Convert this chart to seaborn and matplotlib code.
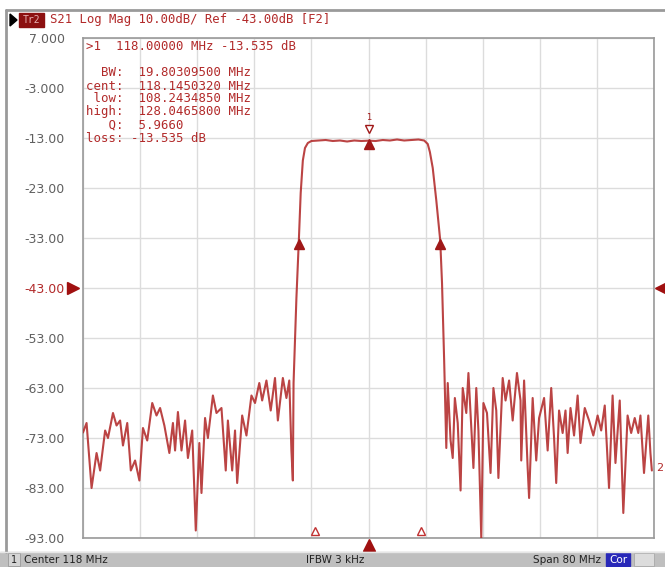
import matplotlib
matplotlib.use("Agg")
import numpy as np
import pandas as pd
import seaborn as sns
import matplotlib.pyplot as plt
from matplotlib.patches import Rectangle
from matplotlib.lines import Line2D

# ---------------- data ----------------
freq_mhz = [
    78.0, 78.5, 79.2, 79.9, 80.4, 81.1, 81.5, 82.2, 82.7, 83.2, 83.6, 84.2, 84.7, 85.3, 85.9,
    86.4, 87.0, 87.7, 88.3, 88.8, 89.4, 90.1, 90.6, 90.9, 91.3, 91.8, 92.3, 92.7, 93.3, 93.8,
    94.3, 94.6, 95.1, 95.5, 96.2, 96.7, 97.4, 98.0, 98.3, 98.9, 99.3, 99.6, 100.3, 100.9, 101.6,
    102.1, 102.7, 103.1, 103.7, 104.3, 104.9, 105.3, 106.0, 106.5, 106.9, 107.2, 107.4,
    107.5, 107.9, 108.24, 108.5, 108.8, 109.1, 109.5, 110.0, 111.0, 112.0, 113.0, 114.0, 115.0,
    116.0, 117.0, 118.0, 119.0, 120.0, 121.0, 122.0, 123.0, 124.0, 125.0, 125.8, 126.3, 126.6,
    127.0, 127.5, 128.05, 128.3, 128.6,
    128.9, 129.1, 129.5, 129.8, 130.1, 130.5, 130.9, 131.2, 131.7, 132.0, 132.4, 132.7, 133.1,
    133.4, 133.8, 134.1, 134.6, 135.1, 135.5, 135.9, 136.2, 136.8, 137.2, 137.7, 138.2, 138.8,
    139.3, 139.4, 139.8, 140.3, 140.5, 141.0, 141.5, 141.9, 142.6, 143.1, 143.6, 144.0, 144.3,
    144.7, 145.2, 145.6, 145.9, 146.3, 146.8, 147.3, 147.7, 148.3, 148.9, 149.5, 150.1, 150.6,
    151.1, 151.7, 152.2, 152.6, 153.2, 153.7, 154.3, 154.8, 155.3, 155.8, 156.1, 156.6, 157.2,
    157.5, 157.7,
]
s21_db = [
    -71.9, -70.0, -83.0, -76.0, -79.5, -71.5, -73.0, -68.0, -70.5, -69.5, -74.5, -70.0, -79.5, -77.5, -81.5,
    -71.0, -73.5, -66.0, -68.5, -67.0, -70.5, -76.0, -70.0, -75.5, -67.8, -75.5, -69.5, -77.0, -71.5, -91.5,
    -74.0, -84.0, -69.0, -73.0, -64.5, -68.0, -67.0, -79.5, -69.5, -79.5, -71.5, -82.0, -68.5, -72.5, -64.5,
    -66.0, -62.0, -65.5, -61.5, -67.5, -61.0, -69.5, -61.0, -65.0, -61.5, -75.5, -81.5,
    -62.0, -45.0, -33.5, -24.0, -17.5, -15.0, -14.0, -13.6, -13.5, -13.4, -13.6, -13.5, -13.7,
    -13.5, -13.6, -13.535, -13.6, -13.4, -13.5, -13.3, -13.5, -13.4, -13.3, -13.5, -14.2, -15.8,
    -19.0, -25.5, -33.5, -42.0, -57.5,
    -75.0, -62.0, -73.5, -77.0, -65.0, -70.0, -83.5, -63.0, -68.0, -60.0, -71.0, -79.0, -63.0,
    -71.5, -93.0, -66.0, -68.0, -80.0, -63.0, -67.5, -81.0, -61.0, -65.5, -61.5, -69.5, -60.0,
    -65.5, -77.5, -61.5, -79.0, -85.0, -65.0, -77.5, -69.0, -65.0, -75.5, -63.0, -73.0, -82.0,
    -67.5, -72.0, -67.5, -76.0, -67.0, -72.5, -64.5, -74.0, -67.0, -69.5, -72.5, -68.5, -71.5,
    -66.5, -83.0, -64.5, -78.0, -65.5, -88.0, -68.5, -72.0, -69.0, -72.0, -68.5, -80.0, -68.5,
    -76.0, -79.5,
]

y_ticks = [7, -3, -13, -23, -33, -43, -53, -63, -73, -83, -93]
y_tick_labels = ["7.000", "-3.000", "-13.00", "-23.00", "-33.00", "-43.00",
                 "-53.00", "-63.00", "-73.00", "-83.00", "-93.00"]
x_grid = [78, 86, 94, 102, 110, 118, 126, 134, 142, 150, 158]

ref_level = -43.0
marker1_freq, marker1_db = 118.0, -13.535
bw_low, bw_high, bw_level = 108.243485, 128.04658, -33.535
bottom_hollow = [110.45, 125.4]

header_text = "S21 Log Mag 10.00dB/ Ref -43.00dB [F2]"
marker_line = ">1  118.00000 MHz -13.535 dB"
stats_lines = [
    "  BW:  19.80309500 MHz",
    "cent:  118.1450320 MHz",
    " low:  108.2434850 MHz",
    "high:  128.0465800 MHz",
    "   Q:  5.9660",
    "loss: -13.535 dB",
]

# ---------------- styling ----------------
W, H = 665, 567
RED = "#b22a2a"
sns.set_theme(style="white")
plt.rcParams['font.family'] = ['DejaVu Sans']

fig = plt.figure(figsize=(W / 100, H / 100), dpi=100)
fig.patch.set_facecolor("white")

def fx(px):
    return px / W

def fy(py):
    return 1 - py / H

ax = fig.add_axes([fx(83), fy(538), fx(654) - fx(83), fy(38) - fy(538)])
ax.set_facecolor("white")

df = pd.DataFrame({"freq": freq_mhz, "s21": s21_db})
sns.lineplot(data=df, x="freq", y="s21", ax=ax, color=RED, lw=1.5,
             estimator=None, sort=False, alpha=0.88, zorder=3)

ax.set_xlim(78, 158)
ax.set_ylim(-93, 7)
ax.set_xticks(x_grid)
ax.set_xticklabels([])
ax.set_yticks(y_ticks)
ax.set_yticklabels(y_tick_labels)
ax.tick_params(axis="y", length=0, pad=13, labelsize=9, labelcolor="#606060")
ax.tick_params(axis="x", length=0)
for lbl, v in zip(ax.get_yticklabels(), y_ticks):
    if v == ref_level:
        lbl.set_color(RED)
ax.grid(True, color="#dcdcdc", lw=1.0, zorder=0)
ax.set_xlabel("")
ax.set_ylabel("")
for s in ax.spines.values():
    s.set_color("#999999")
    s.set_linewidth(1.2)

# markers on trace
ax.plot([marker1_freq], [marker1_db - 0.6], marker="^", ms=7, color="#a01818",
        ls="none", zorder=5)
ax.plot([marker1_freq], [marker1_db + 2.4], marker="v", ms=6, mfc="white",
        mec="#a01818", mew=1.0, ls="none", zorder=5)
ax.text(marker1_freq, marker1_db + 4.6, "1", color="#a01818", fontsize=6,
        ha="center", va="center", zorder=5)
ax.plot([bw_low, bw_high], [bw_level - 0.6, bw_level - 0.6], marker="^", ms=7,
        color="#a01818", ls="none", zorder=5)
ax.plot(bottom_hollow, [-91.6, -91.6], marker="^", ms=6, mfc="white",
        mec="#c03030", mew=1.0, ls="none", zorder=5, clip_on=False)
ax.plot([marker1_freq], [-94.4], marker="^", ms=9, color="#a01010",
        ls="none", zorder=5, clip_on=False)
# reference level arrows
ax.plot([76.6], [ref_level], marker=">", ms=8, color="#a01010", ls="none",
        clip_on=False, zorder=5)
ax.plot([159.0], [ref_level], marker="<", ms=8, color="#a01010", ls="none",
        clip_on=False, zorder=5)
ax.text(158.25, -79.0, "2", color=RED, fontsize=8, ha="left", va="center",
        clip_on=False)

# marker readout text
mono = "DejaVu Sans Mono"
fig.text(fx(86), fy(47), marker_line, family=mono, fontsize=8.9, color=RED,
         ha="left", va="center")
for i, line in enumerate(stats_lines):
    fig.text(fx(86), fy(73 + 13 * i), line, family=mono, fontsize=8.9, color=RED,
             ha="left", va="center")

# header
fig.add_artist(Line2D([fx(6), fx(665)], [fy(10), fy(10)], color="#9a9a9a", lw=2))
fig.add_artist(Line2D([fx(6), fx(6)], [fy(10), fy(552)], color="#9a9a9a", lw=2))
tri = plt.Polygon([[fx(10), fy(14)], [fx(10), fy(26)], [fx(17), fy(20)]],
                  closed=True, transform=fig.transFigure, color="black")
fig.add_artist(tri)
fig.add_artist(Rectangle((fx(19), fy(27)), fx(25), fy(13) - fy(27),
                         transform=fig.transFigure, color="#8c1010"))
fig.text(fx(31.5), fy(20), "Tr2", family=mono, fontsize=7, color="#e8b0b0",
         ha="center", va="center")
fig.text(fx(50), fy(20), header_text, family=mono, fontsize=8.8, color=RED,
         ha="left", va="center")

# status bar
fig.add_artist(Rectangle((0, 0), 1, fy(552), transform=fig.transFigure,
                         color="#bfbfbf"))
fig.add_artist(Line2D([0, 1], [fy(552), fy(552)], color="#e6e6e6", lw=1))
fig.add_artist(Rectangle((fx(8), fy(566)), fx(12), fy(553) - fy(566),
                         transform=fig.transFigure, fc="#d4d4d4", ec="#9a9a9a", lw=0.6))
fig.text(fx(14), fy(560), "1", fontsize=7, color="#222222", ha="center", va="center")
fig.text(fx(24), fy(560), "Center 118 MHz", fontsize=7.5, color="#222222",
         ha="left", va="center")
fig.text(fx(335), fy(560), "IFBW 3 kHz", fontsize=7.5, color="#222222",
         ha="center", va="center")
fig.text(fx(601), fy(560), "Span 80 MHz", fontsize=7.5, color="#222222",
         ha="right", va="center")
fig.add_artist(Rectangle((fx(606), fy(566)), fx(24), fy(553) - fy(566),
                         transform=fig.transFigure, color="#2828b8"))
fig.text(fx(618), fy(560), "Cor", fontsize=7.5, color="white", ha="center",
         va="center")
fig.add_artist(Rectangle((fx(634), fy(566)), fx(20), fy(553) - fy(566),
                         transform=fig.transFigure, fc="#dcdcdc", ec="#a8a8a8", lw=0.6))

fig.savefig("out.png", dpi=100)
